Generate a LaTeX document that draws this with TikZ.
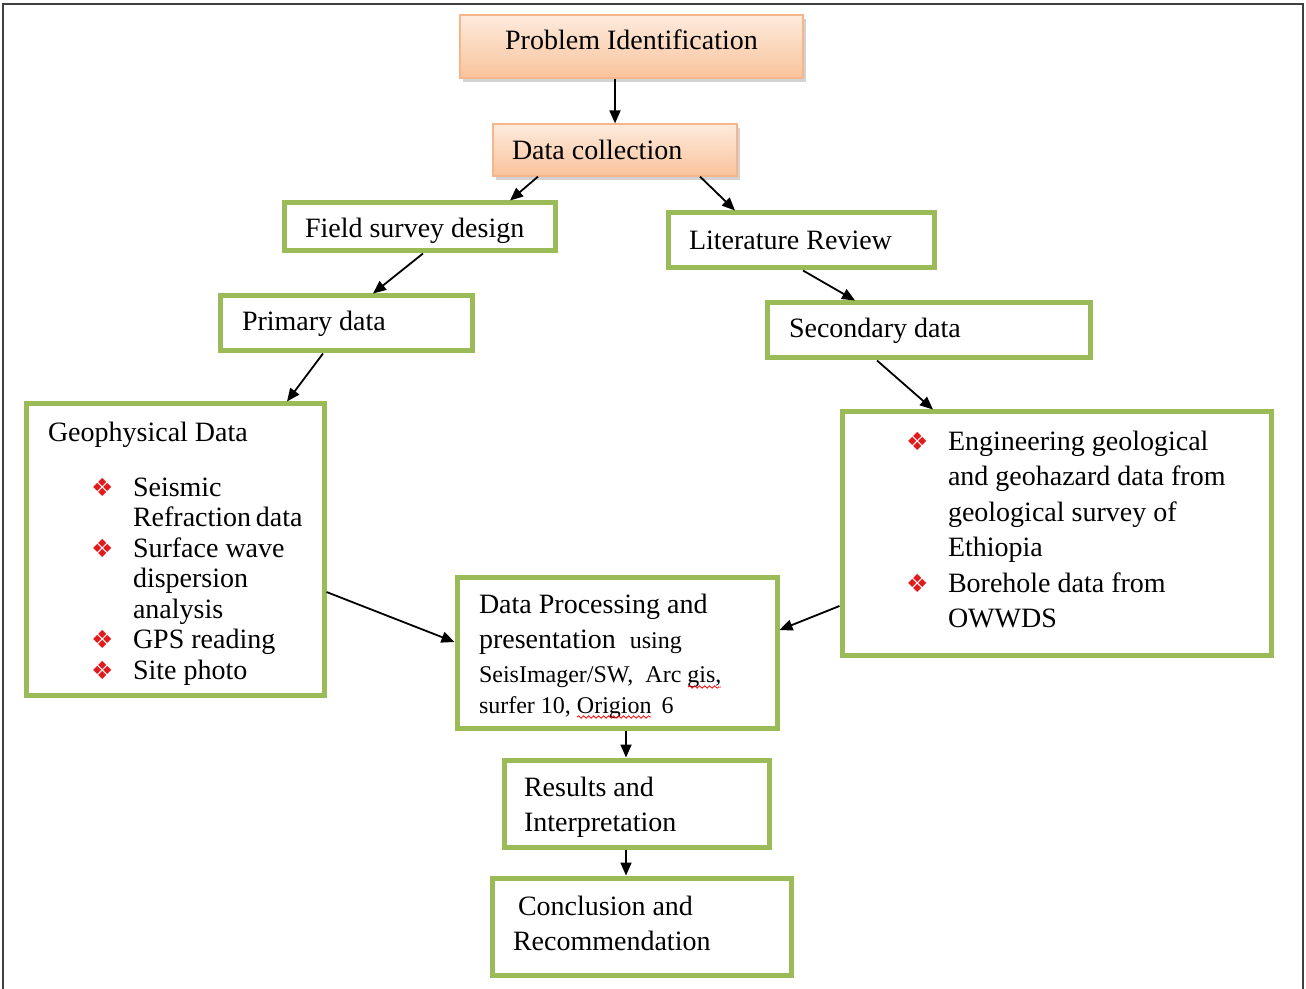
\documentclass[tikz,border=0pt]{standalone}
\usepackage{fontspec}
\setmainfont{Liberation Serif}
\newfontfamily\symfont{DejaVu Sans}
\usetikzlibrary{arrows.meta,shadows,decorations.pathmorphing}
\definecolor{boxgreen}{HTML}{9BBB59}
\definecolor{peachtop}{HTML}{FDEBDD}
\definecolor{peachbot}{HTML}{F9C39C}
\definecolor{peachline}{HTML}{F4B68A}
\definecolor{bulred}{HTML}{E31A1C}
% red bullet hanging left of the item text
\newcommand\bul{\leavevmode\llap{\makebox[21pt][l]{\symfont\fontsize{12.5}{12.5}\selectfont\color{bulred}❖}}}
% invisible struts that nudge a box's text down (\up) or up (\dn)
\newcommand\up[1]{\rule{0pt}{#1}}
\newcommand\dn[1]{\rule[-#1]{0pt}{#1}}
\begin{document}
\begin{tikzpicture}[x=0.5pt,y=-0.5pt,
    arr/.style={-{Triangle[length=6.5pt,width=5.5pt]},line width=0.9pt},
    peach/.style={draw=peachline,line width=0.6pt,top color=peachtop,bottom color=peachbot,
      drop shadow={shadow xshift=1.5pt,shadow yshift=-2pt,fill=black!35}},
    gbox/.style={draw=boxgreen,line width=2.5pt,align=flush left,inner ysep=0pt,
      font=\fontsize{14}{17.5}\selectfont},
    spell/.style={red,line width=0.4pt,decorate,decoration={snake,amplitude=0.6pt,segment length=2.5pt}}]
  \useasboundingbox (0,0) rectangle (1306,989);
  \draw[line width=1pt,black!75] (3,989) -- (3,4) -- (1303,4) -- (1303,989);

  % top of the chain
  \node[peach,minimum width=171.5pt,minimum height=31.5pt,text depth=7pt,
    font=\fontsize{14}{17}\selectfont] (pi) at (631.5,46.5) {Problem Identification};
  \node[peach,minimum height=26pt,text width=103pt,inner xsep=9.5pt,align=flush left,
    font=\fontsize{14}{17}\selectfont] (dc) at (615,150) {Data collection};

  % two branches
  \node[gbox,text width=114.5pt,inner xsep=10.5pt,minimum height=24pt] (fsd) at (419.5,227) {\up{13.6pt}Field survey design};
  \node[gbox,text width=112pt,inner xsep=10.5pt,minimum height=27.5pt] (lr) at (801,240.5) {Literature Review};
  \node[gbox,text width=104pt,inner xsep=11pt,minimum height=27.5pt] (pd) at (346,323.5) {Primary data};
  \node[gbox,text width=139.5pt,inner xsep=11pt,minimum height=27.5pt] (sd) at (928.5,330.5) {Secondary data};

  \node[gbox,text width=127pt,inner xsep=11pt,minimum height=145.5pt,
    font=\fontsize{14}{15.25}\selectfont] (gd) at (175,549.5)
    {\up{13.6pt}Geophysical Data\\[12.25pt]\leftskip=42.5pt
     \bul Seismic\\Refraction~data\\
     \bul Surface wave\\dispersion\\analysis\\
     \bul GPS reading\\
     \bul Site photo\par};
  \node[gbox,text width=192.5pt,inner xsep=11pt,minimum height=121.5pt,
    font=\fontsize{14}{17.75}\selectfont] (rb) at (1056.5,533.5)
    {\leftskip=42pt
     \bul Engineering geological\\and geohazard data from\\geological survey of\\Ethiopia\\
     \bul Borehole data from\\OWWDS\dn{4pt}\par};

  % processing and results
  \node[gbox,text width=138pt,inner xsep=11pt,minimum height=75.5pt] (dp) at (617,652.5)
    {\up{14pt}Data Processing and\\presentation~ {\fontsize{12}{17}\selectfont using}\\
     \fontsize{12}{17}\selectfont SeisImager/SW,~ Arc gis,\\
     \fontsize{12}{15.5}\selectfont surfer 10, Origion\, 6\par};
  \node[gbox,text width=112.5pt,inner xsep=10pt,minimum height=43.5pt] (rs) at (636.5,803.5)
    {\up{13.6pt}Results and\\Interpretation};
  \node[gbox,text width=128.5pt,inner xsep=10.5pt,minimum height=48.5pt] (cr) at (641.5,926.5)
    {\hspace*{2.5pt}Conclusion and\\Recommendation\dn{3pt}};
  \draw[spell] (688,687) -- (721,687);
  \draw[spell] (577,717) -- (651,717);

  % connectors
  \draw[arr] (pi.south -| dc.north) -- (dc.north);
  \draw[arr] ([shift={(-77,0)}]dc.south) -- ([shift={(90.5,0)}]fsd.north);
  \draw[arr] ([shift={(85,0)}]dc.south) -- ([shift={(-66,0)}]lr.north);
  \draw[arr] ([shift={(3.5,0)}]fsd.south) -- ([shift={(27,0)}]pd.north);
  \draw[arr] ([shift={(2,0)}]lr.south) -- ([shift={(-73.5,0)}]sd.north);
  \draw[arr] ([shift={(-23,0)}]pd.south) -- ([shift={(112,0)}]gd.north);
  \draw[arr] ([shift={(-51.5,0)}]sd.south) -- ([shift={(-123.5,0)}]rb.north);
  \draw[arr] ([shift={(0,42.5)}]gd.east) -- ([shift={(0,-10.5)}]dp.west);
  \draw[arr] ([shift={(0,72.5)}]rb.west) -- ([shift={(0,-22.5)}]dp.east);
  \draw[arr] ([shift={(9,0)}]dp.south) coordinate (t1) -- (t1 |- rs.north);
  \draw[arr] ([shift={(-10.5,0)}]rs.south) coordinate (t2) -- (t2 |- cr.north);
\end{tikzpicture}
\end{document}
